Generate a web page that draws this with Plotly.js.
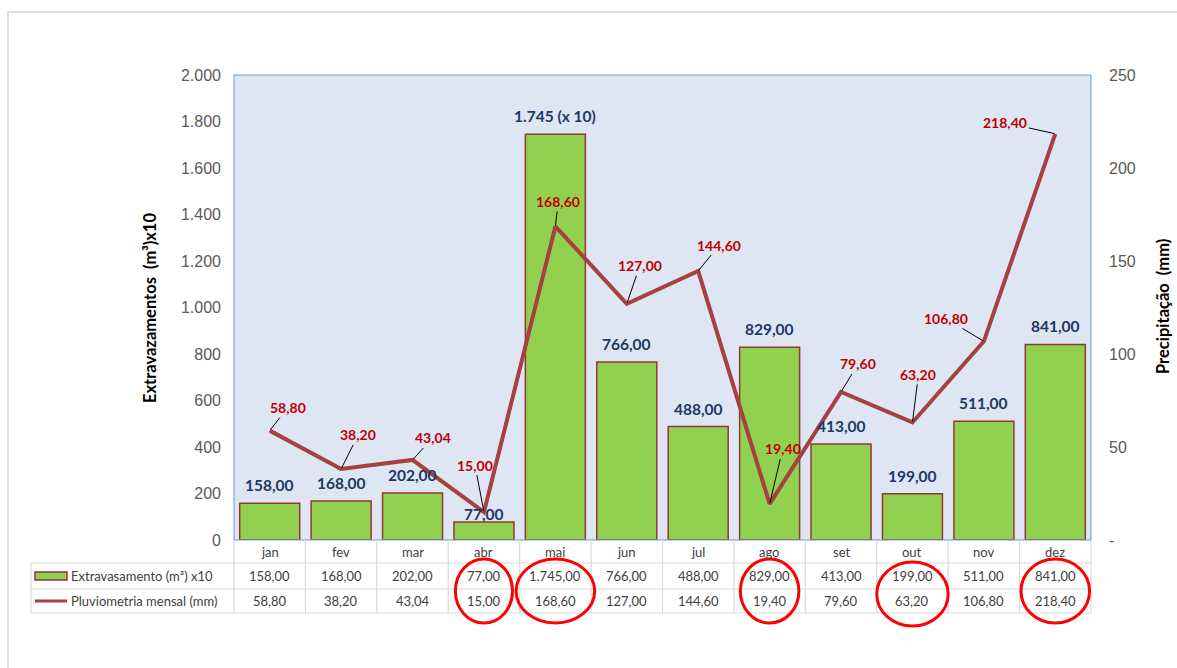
<!DOCTYPE html>
<html>
<head>
<meta charset="utf-8">
<script src="https://cdn.plot.ly/plotly-3.0.1.min.js"></script>
<style>html,body{margin:0;padding:0;background:#fff;} #chart{width:1177px;height:668px;}</style>
</head>
<body>
<div id="chart"></div>
<script>
// ---- data ----
const months = ['jan','fev','mar','abr','mai','jun','jul','ago','set','out','nov','dez'];
const extravasamento = [158, 168, 202, 77, 1745, 766, 488, 829, 413, 199, 511, 841];
const pluviometria = [58.8, 38.2, 43.04, 15, 168.6, 127, 144.6, 19.4, 79.6, 63.2, 106.8, 218.4];
const leftTickVals = [0, 200, 400, 600, 800, 1000, 1200, 1400, 1600, 1800, 2000];
const leftTickText = ['0', '200', '400', '600', '800', '1.000', '1.200', '1.400', '1.600', '1.800', '2.000'];
const rightTickVals = [0, 50, 100, 150, 200, 250];
const rightTickText = ['-', '50', '100', '150', '200', '250'];
const seriesNames = ['Extravasamento (m³) x10', 'Pluviometria mensal (mm)'];
const highlighted = ['abr', 'mai', 'ago', 'out', 'dez'];

// ---- formatting ----
function fmt(v, dec) {
  const s = v.toFixed(dec === undefined ? 2 : dec);
  const parts = s.split('.');
  parts[0] = parts[0].replace(/\B(?=(\d{3})+(?!\d))/g, '.');
  return parts.length > 1 ? parts[0] + ',' + parts[1] : parts[0];
}
const barLabels = extravasamento.map(v => v >= 1000 ? fmt(v, 0) + ' (x 10)' : fmt(v));

// ---- geometry / style ----
const M = {l: 234, r: 86, t: 75, b: 128};
const W = 1177, H = 668;
const PW = W - M.l - M.r, PH = H - M.t - M.b;
const px = p => (p - M.l) / PW;
const py = p => (H - M.b - p) / PH;
const n = months.length;
const colBound = k => k / n;

const GREEN = '#92D050', BAR_LINE = '#953735', LINE = '#A5413F';
const GRID = '#d9d9d9', TXT = '#404040';
const CAL = 'Lato, "Open Sans", sans-serif';

// bar label vertical offset (px, centre above bar top)
const barLabelShift = months.map(m => m === 'abr' ? 8 : 18);
// line label offsets (px)
const lineLabelOffset = [[18,-23],[17,-34],[20,-22],[-9,-47],[3,-25],[13,-38],[21,-26],[13,-55],[17,-28],[6,-48],[-38,-23],[-50,-11]];
// circle widths (in category units)
const circleW = {abr: 0.8, mai: 1.1, ago: 0.82, out: 1.0, dez: 0.96};

const traces = [
  {
    type: 'bar', x: months, y: extravasamento, name: seriesNames[0],
    marker: {color: GREEN, line: {color: BAR_LINE, width: 1.5}},
    hoverinfo: 'skip'
  },
  {
    type: 'scatter', mode: 'lines', x: months, y: pluviometria, yaxis: 'y2', name: seriesNames[1],
    line: {color: LINE, width: 4}, hoverinfo: 'skip'
  }
];

const annotations = [];
// bar labels
months.forEach((m, i) => {
  annotations.push({
    xref: 'x', yref: 'y', x: m, y: extravasamento[i], text: '<b>' + barLabels[i] + '</b>',
    showarrow: false, xanchor: 'center', yanchor: 'middle', yshift: barLabelShift[i],
    font: {family: CAL, size: 15.5, color: '#1F3864'}
  });
});
// line labels with leader lines
months.forEach((m, i) => {
  annotations.push({
    xref: 'x', yref: 'y2', x: m, y: pluviometria[i], text: '<b>' + fmt(pluviometria[i]) + '</b>',
    showarrow: true, arrowhead: 0, arrowwidth: 1, arrowcolor: '#000', standoff: 1,
    ax: lineLabelOffset[i][0], ay: lineLabelOffset[i][1], axref: 'pixel', ayref: 'pixel',
    font: {family: CAL, size: 14, color: '#C00000'}
  });
});
// table: header months and values
const cell = (m, yy, txt) => ({xref: 'x', yref: 'paper', x: m, y: py(yy), text: txt, showarrow: false,
  xanchor: 'center', yanchor: 'middle', font: {family: CAL, size: 13, color: TXT}});
months.forEach((m, i) => {
  annotations.push(cell(m, 551.5, m));
  annotations.push(cell(m, 576, fmt(extravasamento[i])));
  annotations.push(cell(m, 601, fmt(pluviometria[i])));
});
// table legend texts
annotations.push({xref: 'paper', yref: 'paper', x: px(69), y: py(576), xanchor: 'left', yanchor: 'middle',
  text: seriesNames[0], showarrow: false, font: {family: CAL, size: 13, color: TXT}});
annotations.push({xref: 'paper', yref: 'paper', x: px(69), y: py(601), xanchor: 'left', yanchor: 'middle',
  text: seriesNames[1], showarrow: false, font: {family: CAL, size: 13, color: TXT}});
// axis titles
annotations.push({xref: 'paper', yref: 'paper', x: px(150), y: py(308), textangle: -90,
  xanchor: 'center', yanchor: 'middle',
  text: '<b>Extravazamentos  (m³)x10</b>', showarrow: false, font: {family: CAL, size: 16.5, color: '#000'}});
annotations.push({xref: 'paper', yref: 'paper', x: px(1163), y: py(307), textangle: -90,
  xanchor: 'center', yanchor: 'middle',
  text: '<b>Precipitação  (mm)</b>', showarrow: false, font: {family: CAL, size: 16.5, color: '#000'}});

const shapes = [];
// outer frame
shapes.push({type: 'rect', xref: 'paper', yref: 'paper', x0: px(8), x1: px(1200), y0: py(700), y1: py(12),
  line: {color: '#dedede', width: 2}, layer: 'below'});
// plot border
shapes.push({type: 'rect', xref: 'paper', yref: 'paper', x0: 0, x1: 1, y0: 0, y1: 1,
  line: {color: '#6C9AD6', width: 1}, layer: 'above'});
// table grid
[563, 589, 613].forEach(yy => shapes.push({type: 'line', xref: 'paper', yref: 'paper',
  x0: px(31), x1: 1, y0: py(yy), y1: py(yy), line: {color: GRID, width: 1.2}}));
shapes.push({type: 'line', xref: 'paper', yref: 'paper', x0: px(31), x1: px(31), y0: py(563), y1: py(613),
  line: {color: GRID, width: 1.2}});
for (let k = 0; k <= n; k++) {
  shapes.push({type: 'line', xref: 'paper', yref: 'paper', x0: colBound(k), x1: colBound(k), y0: 0, y1: py(613),
    line: {color: GRID, width: 1.2}});
}
// table legend keys
shapes.push({type: 'rect', xref: 'paper', yref: 'paper', x0: px(35), x1: px(67), y0: py(580), y1: py(572),
  fillcolor: GREEN, line: {color: BAR_LINE, width: 1.5}});
shapes.push({type: 'line', xref: 'paper', yref: 'paper', x0: px(35), x1: px(67), y0: py(601), y1: py(601),
  line: {color: LINE, width: 3}});
// red highlight circles
highlighted.forEach(m => {
  const i = months.indexOf(m);
  const c = (i + 0.5) / n, hw = circleW[m] / n / 2;
  const dy = m === 'out' ? 3 : 0;
  shapes.push({type: 'circle', xref: 'paper', yref: 'paper', x0: c - hw, x1: c + hw,
    y0: py(623 + dy), y1: py(559 + dy), line: {color: '#FF0000', width: 3}});
});

const layout = {
  width: W, height: H,
  margin: M,
  paper_bgcolor: '#ffffff',
  plot_bgcolor: '#DDE6F2',
  showlegend: false,
  bargap: 0.16,
  xaxis: {type: 'category', range: [-0.5, n - 0.5], showticklabels: false, showgrid: false,
    zeroline: false, showline: false, fixedrange: true},
  yaxis: {range: [0, 2000], tickmode: 'array', tickvals: leftTickVals, ticktext: leftTickText,
    showgrid: false, zeroline: false, showline: false, ticks: '', ticklabelstandoff: 12,
    tickfont: {family: '"Liberation Sans", Arial, sans-serif', size: 16, color: '#595959'}, fixedrange: true},
  yaxis2: {range: [0, 250], overlaying: 'y', side: 'right', tickmode: 'array', tickvals: rightTickVals,
    ticktext: rightTickText, showgrid: false, zeroline: false, showline: false, ticks: '', ticklabelstandoff: 17,
    tickfont: {family: '"Liberation Sans", Arial, sans-serif', size: 16, color: '#595959'}, fixedrange: true},
  annotations: annotations,
  shapes: shapes
};

Plotly.newPlot('chart', traces, layout, {displayModeBar: false, staticPlot: true});
</script>
</body>
</html>
